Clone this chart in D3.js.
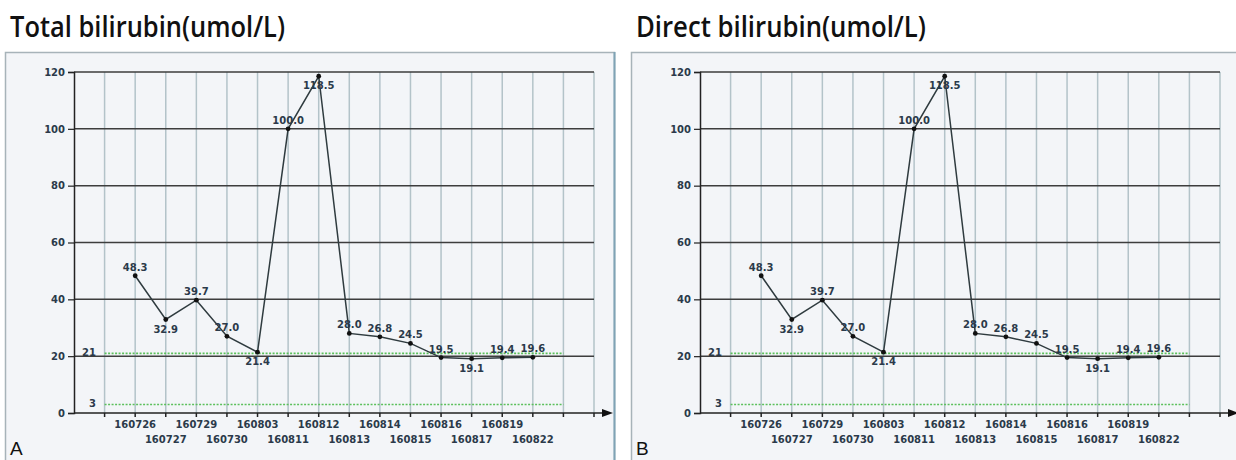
<!DOCTYPE html>
<html><head><meta charset="utf-8">
<script src="https://cdn.jsdelivr.net/npm/d3@7"></script>
<style>body{margin:0;background:#fff;}svg{display:block;}</style>
</head><body>
<svg id="c" width="1236" height="460"></svg>
<script>
const dates = ["160726","160727","160729","160730","160803","160811","160812","160813","160814","160815","160816","160817","160819","160822"];
const totalBilirubin = [48.3,32.9,39.7,27.0,21.4,100.0,118.5,28.0,26.8,24.5,19.5,19.1,19.4,19.6];
const directBilirubin = [48.3,32.9,39.7,27.0,21.4,100.0,118.5,28.0,26.8,24.5,19.5,19.1,19.4,19.6];
const labelSide = ["up","down","up","up","down","up","down","up","up","up","up","down","up","up"];
const yTicks = [0,20,40,60,80,100,120];
const refLines = [21,3];
const titles = ["Total bilirubin(umol/L)","Direct bilirubin(umol/L)"];
const panelLetters = ["A","B"];

const svg = d3.select("#c");
const fontSmall = "'DejaVu Sans', Verdana, sans-serif";
const txtCol = "#2b3a4a";

function panel(ox, title, letter, values, titleW) {
  const g = svg.append("g").attr("transform", `translate(${ox},0)`);
  g.append("rect").attr("x",5.5).attr("y",52.5).attr("width",609).attr("height",420)
    .attr("fill","#f3f5f8").attr("stroke","#a7b3b9").attr("stroke-width",1.5);
  g.append("line").attr("x1",614.5).attr("x2",614.5).attr("y1",52).attr("y2",460)
    .attr("stroke","#7fa3b5").attr("stroke-width",2);
  g.append("text").attr("x",10).attr("y",37).text(title)
    .attr("font-family","'Open Sans', sans-serif").attr("font-weight",600)
    .attr("font-size",28).attr("fill","#111").attr("textLength",titleW).attr("lengthAdjust","spacingAndGlyphs");
  g.append("text").attr("x",10).attr("y",455).text(letter)
    .attr("font-family","'Liberation Sans', Arial, sans-serif").attr("font-size",19).attr("fill","#111");

  const x = d3.scaleLinear().domain([-2, 15]).range([74, 594]);
  const y = d3.scaleLinear().domain([0, 120]).range([413, 72]);
  const gridIdx = d3.range(-1, 16);

  g.append("g").selectAll("line").data(gridIdx).join("line")
    .attr("x1", d => x(d)).attr("x2", d => x(d)).attr("y1", y(120)).attr("y2", y(0))
    .attr("stroke","#b3c3c9").attr("stroke-width",1.5);
  g.append("g").selectAll("line").data(yTicks.filter(d=>d>0)).join("line")
    .attr("x1", x(-2)).attr("x2", x(15)).attr("y1", d => y(d)).attr("y2", d => y(d))
    .attr("stroke","#3d3d3d").attr("stroke-width",1.5);
  const yAxis = d3.axisLeft(y).tickValues(yTicks).tickSize(6).tickPadding(3);
  const ya = g.append("g").attr("transform",`translate(${x(-2)},0)`).call(yAxis);
  ya.select(".domain").attr("stroke","#222").attr("stroke-width",1.5);
  ya.selectAll(".tick line").attr("stroke","#222").attr("stroke-width",1.2);
  ya.selectAll("text").attr("font-family",fontSmall).attr("font-weight","bold")
    .attr("font-size",10).attr("fill",txtCol);
  g.append("line").attr("x1",x(-2)).attr("x2",604).attr("y1",y(0)).attr("y2",y(0))
    .attr("stroke","#222").attr("stroke-width",1.5);
  g.append("path").attr("d",`M602,${y(0)-4}L613,${y(0)}L602,${y(0)+4}Z`).attr("fill","#111");
  g.append("g").selectAll("line").data(gridIdx).join("line")
    .attr("x1", d => x(d)).attr("x2", d => x(d)).attr("y1", y(0)).attr("y2", y(0)+4)
    .attr("stroke","#222").attr("stroke-width",1.5);
  g.append("g").selectAll("text").data(dates).join("text")
    .attr("x",(d,i)=>x(i)).attr("y",(d,i)=> i%2===0 ? 427.5 : 442.5)
    .attr("text-anchor","middle").text(d=>d)
    .attr("font-family",fontSmall).attr("font-weight","bold").attr("font-size",10)
    .attr("fill",txtCol);
  g.append("g").selectAll("line").data(refLines).join("line")
    .attr("x1",x(-1)).attr("x2",x(14)).attr("y1",d=>y(d)).attr("y2",d=>y(d))
    .attr("stroke","#5cc05c").attr("stroke-width",1.6).attr("stroke-dasharray","2,1.5");
  g.append("g").selectAll("text").data(refLines).join("text")
    .attr("x",96).attr("y",d=>y(d)+3).attr("text-anchor","end").text(d=>d)
    .attr("font-family",fontSmall).attr("font-weight","bold").attr("font-size",10)
    .attr("fill",txtCol);
  const line = d3.line().x((d,i)=>x(i)).y(d=>y(d));
  g.append("path").datum(values).attr("d",line).attr("fill","none")
    .attr("stroke","#2f3b3f").attr("stroke-width",1.5);
  g.append("g").selectAll("circle").data(values).join("circle")
    .attr("cx",(d,i)=>x(i)).attr("cy",d=>y(d)).attr("r",2.4).attr("fill","#111");
  g.append("g").selectAll("text").data(values).join("text")
    .attr("x",(d,i)=>x(i)).attr("y",(d,i)=> labelSide[i]==="up" ? y(d)-5 : y(d)+13)
    .attr("text-anchor","middle").text(d=>d.toFixed(1))
    .attr("font-family",fontSmall).attr("font-weight","bold").attr("font-size",10)
    .attr("fill",txtCol);
}

panel(0, titles[0], panelLetters[0], totalBilirubin, 275);
panel(626, titles[1], panelLetters[1], directBilirubin, 290);
</script>
</body></html>
